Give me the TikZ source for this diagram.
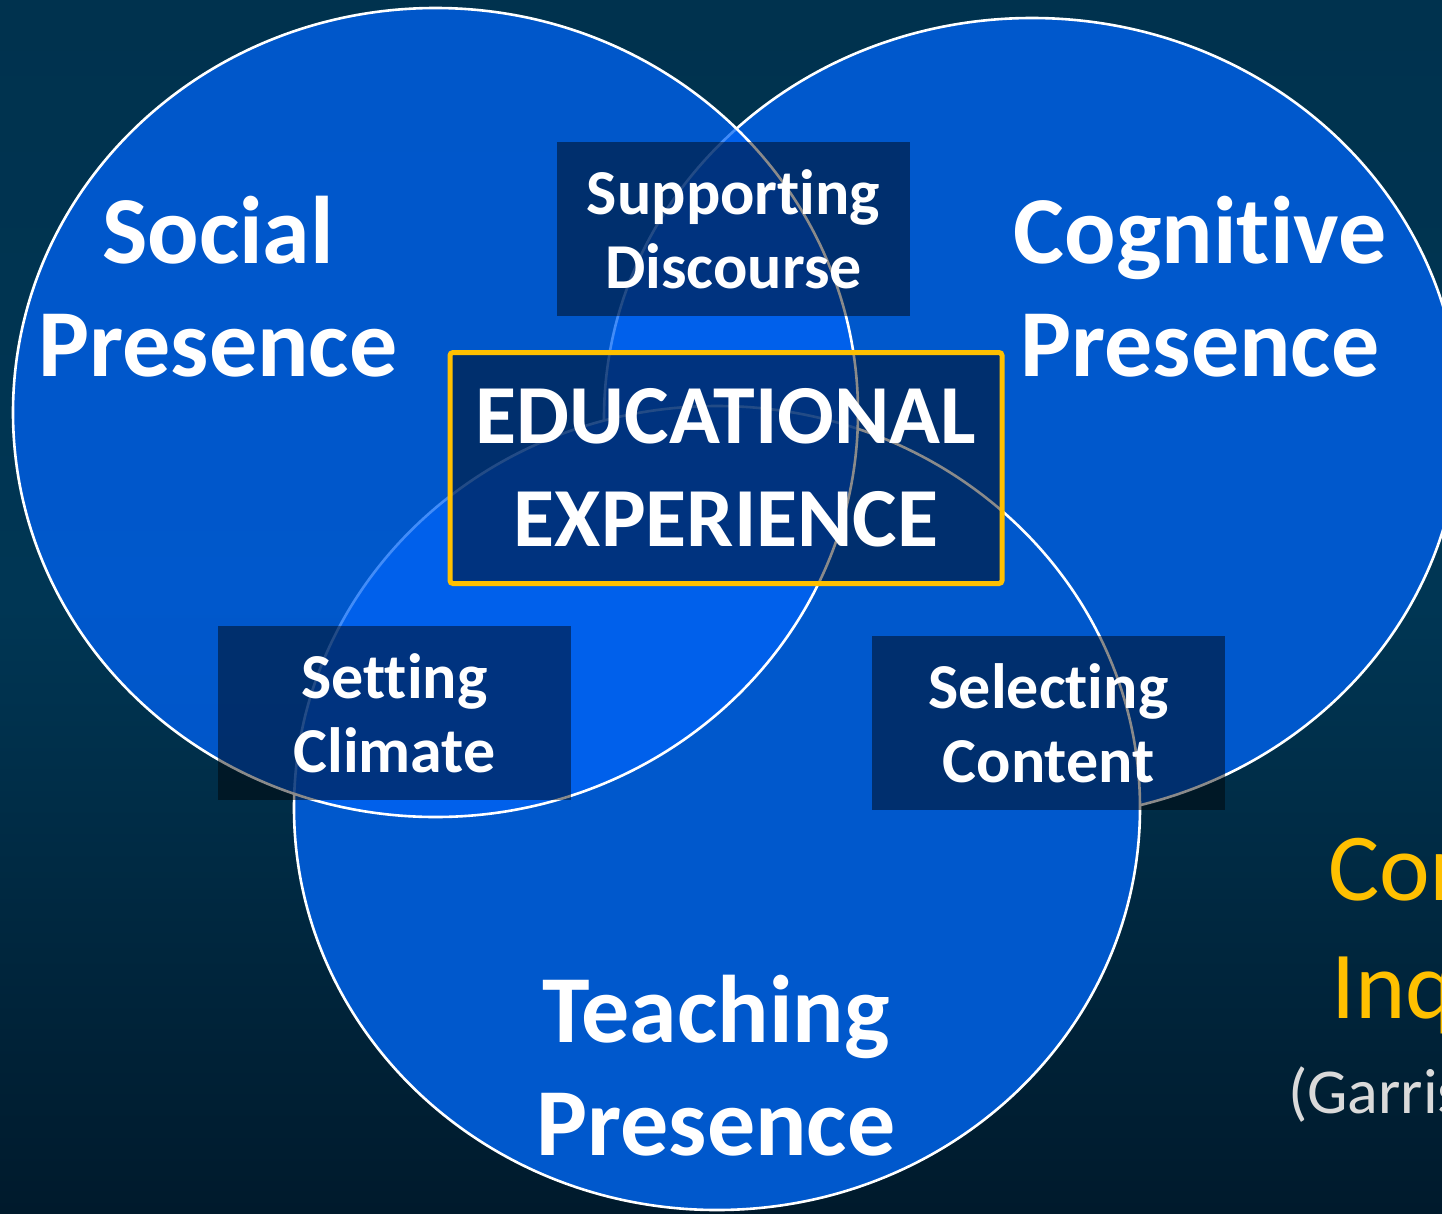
\documentclass[tikz,border=0pt]{standalone}
\usepackage{fontspec}
\setmainfont{Carlito}[Ligatures={NoCommon}]
\definecolor{bgtop}{RGB}{0,50,78}
\definecolor{bgmid}{RGB}{0,54,84}
\definecolor{bgbot}{RGB}{0,26,44}
\definecolor{cblue}{RGB}{0,88,204}
\definecolor{sblue}{RGB}{0,100,246}
\definecolor{gold}{RGB}{255,192,0}
\definecolor{lgray}{RGB}{218,218,218}
\tikzset{
  rim/.style={draw=white, line width=2.6},
  darkbox/.style={fill=black, fill opacity=0.46, text opacity=1, text=white,
    inner sep=0, align=center, minimum width=353, minimum height=174,
    font=\bfseries\fontsize{64}{74}\selectfont},
  biglabel/.style={text=white, inner sep=0, align=center,
    font=\bfseries\fontsize{96}{113}\selectfont},
  sidetext/.style={inner sep=0, anchor=base west}
}
\begin{document}
\begin{tikzpicture}[x=1pt,y=-1pt]
\useasboundingbox (0,0) rectangle (1442,1213);
\begin{scope}
\clip (0,0) rectangle (1442,1213);
\shade[top color=bgtop, bottom color=bgbot, middle color=bgmid] (0,0) rectangle (1442,1213);
% Cognitive presence circle
\fill[cblue] (1032,418) ellipse [x radius=428, y radius=400];
\path[rim] (1032,418) ellipse [x radius=428, y radius=400];
% Teaching presence circle
\fill[cblue] (717,808) ellipse [x radius=423, y radius=402];
\path[rim] (717,808) ellipse [x radius=423, y radius=402];
% Social presence circle (translucent, on top)
\fill[sblue, fill opacity=0.74] (435.5,412.5) ellipse [x radius=422.5, y radius=404.5];
\path[rim] (435.5,412.5) ellipse [x radius=422.5, y radius=404.5];

% labels of the three presences
\node[biglabel] (social) at (218,287) {Social\\Presence};
\node[biglabel] (cognitive) at (1200,287) {Cognitive\\Presence};
\node[biglabel] (teaching) at (716,1066) {Teaching\\Presence};

% overlap boxes
\node[darkbox] (discourse) at (733.5,229) {Supporting\\Discourse};
\node[darkbox] (climate) at (394.5,713) {Setting\\Climate};
\node[darkbox] (content) at (1048.5,723) {Selecting\\Content};

% central box
\node[darkbox, draw=gold, draw opacity=1, line width=5, rounded corners=3,
  minimum width=552, minimum height=231,
  font=\bfseries\fontsize{84}{103}\selectfont] (edu) at (726,468) {EDUCATIONAL\\EXPERIENCE};

% side title, cut by the right edge as in the reference
\node[sidetext, text=gold, font=\fontsize{96}{110}\selectfont] (coi1) at (1328,900) {Community};
\node[sidetext, text=gold, font=\fontsize{96}{110}\selectfont] (coi2) at (1331,1018) {Inquiry};
\node[sidetext, text=lgray, font=\fontsize{64}{74}\selectfont] (coi3) at (1288,1113) {(Garrison};
\end{scope}
\end{tikzpicture}
\end{document}
